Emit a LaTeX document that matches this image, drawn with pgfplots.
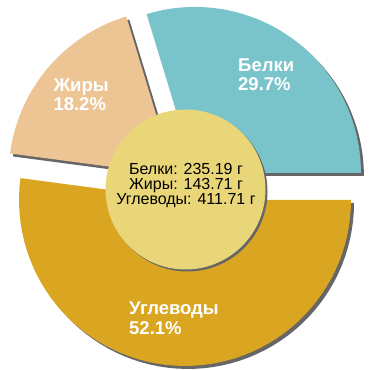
\documentclass[border=0pt]{standalone}
\usepackage{pgfplots}
\usepackage{pgfplotstable}
\pgfplotsset{compat=1.18}
\usepackage{fontspec}
\setmainfont{Liberation Sans}
\definecolor{cB}{HTML}{79C3CB}
\definecolor{cZ}{HTML}{EDC594}
\definecolor{cU}{HTML}{DAA521}
\definecolor{cC}{HTML}{E8D679}
\definecolor{cS}{HTML}{666666}
\pgfplotstableread{
name pct grams
B 29.7 235.19
Z 18.2 143.71
U 52.1 411.71
}\nutr
\pgfplotstablegetelem{0}{pct}\of\nutr \let\pB\pgfplotsretval
\pgfplotstablegetelem{1}{pct}\of\nutr \let\pZ\pgfplotsretval
\pgfplotstablegetelem{2}{pct}\of\nutr \let\pU\pgfplotsretval
\pgfplotstablegetelem{0}{grams}\of\nutr \let\gB\pgfplotsretval
\pgfplotstablegetelem{1}{grams}\of\nutr \let\gZ\pgfplotsretval
\pgfplotstablegetelem{2}{grams}\of\nutr \let\gU\pgfplotsretval
% slice: color, apex x, apex y, start angle, end angle, radius
\newcommand{\slice}[6]{%
 \addplot[fill=#1, draw=none, samples at={0,1,...,62}, variable=\t]
 ({#2 + ((\t<0.5 || \t>61.5) ? 0 : #6)*cos(#4 + (\t-1)*(#5-#4)/60)},
  {#3 + ((\t<0.5 || \t>61.5) ? 0 : #6)*sin(#4 + (\t-1)*(#5-#4)/60)});
}
\begin{document}
\begin{tikzpicture}
\pgfmathsetmacro\aB{\pB*3.6}
\pgfmathsetmacro\aZ{\aB+\pZ*3.6}
\pgfmathsetmacro\aU{\aZ+\pU*3.6}
\pgfmathsetmacro\cx{186}
\pgfmathsetmacro\cy{185}
\pgfmathsetmacro\dd{15}
\pgfmathsetmacro\R{166}
\pgfmathsetmacro\Bx{\cx+\dd*cos(\aB/2)}
\pgfmathsetmacro\By{\cy+\dd*sin(\aB/2)}
\pgfmathsetmacro\Zx{\cx+\dd*cos((\aB+\aZ)/2)}
\pgfmathsetmacro\Zy{\cy+\dd*sin((\aB+\aZ)/2)}
\pgfmathsetmacro\Ux{\cx+\dd*cos((\aZ+\aU)/2)}
\pgfmathsetmacro\Uy{\cy+\dd*sin((\aZ+\aU)/2)}
\begin{axis}[x=1pt, y=1pt, xmin=0, xmax=370, ymin=0, ymax=370,
  hide axis, scale only axis, clip=false]
\path (axis cs:0,0) rectangle (axis cs:370,370);
% shadows
\slice{cS}{\Bx+3}{\By-3}{0}{\aB}{\R}
\slice{cS}{\Zx+3}{\Zy-3}{\aB}{\aZ}{\R}
\slice{cS}{\Ux+3}{\Uy-3}{\aZ}{\aU}{\R}
% slices
\slice{cB}{\Bx}{\By}{0}{\aB}{\R}
\slice{cZ}{\Zx}{\Zy}{\aB}{\aZ}{\R}
\slice{cU}{\Ux}{\Uy}{\aZ}{\aU}{\R}
% centre circle
\addplot[fill=cS, draw=none, samples at={0,3,...,360}, variable=\t]
 ({187.5+80*cos(\t)},{178.5+80*sin(\t)});
\addplot[fill=cC, draw=none, samples at={0,3,...,360}, variable=\t]
 ({185.5+80*cos(\t)},{180.5+80*sin(\t)});
% labels
\begin{scope}[every node/.style={text=white, font=\fontsize{18.5}{19.5}\selectfont\bfseries, inner sep=0pt}]
\node[anchor=base west] at (axis cs:238,298.3) {Белки};
\node[anchor=base west] at (axis cs:238,279) {\pB\%};
\node[anchor=base west] at (axis cs:53.3,278.3) {Жиры};
\node[anchor=base west] at (axis cs:53.3,259.3) {\pZ\%};
\node[anchor=base west] at (axis cs:129,55.7) {Углеводы};
\node[anchor=base west] at (axis cs:129,35) {\pU\%};
\end{scope}
\begin{scope}[every node/.style={text=black, font=\fontsize{16}{15}\selectfont, inner sep=0pt}]
\node[anchor=base] at (axis cs:186,195) {Белки: \gB\ г};
\node[anchor=base] at (axis cs:186,180) {Жиры: \gZ\ г};
\node[anchor=base] at (axis cs:186,165) {Углеводы: \gU\ г};
\end{scope}
\end{axis}
\end{tikzpicture}
\end{document}
